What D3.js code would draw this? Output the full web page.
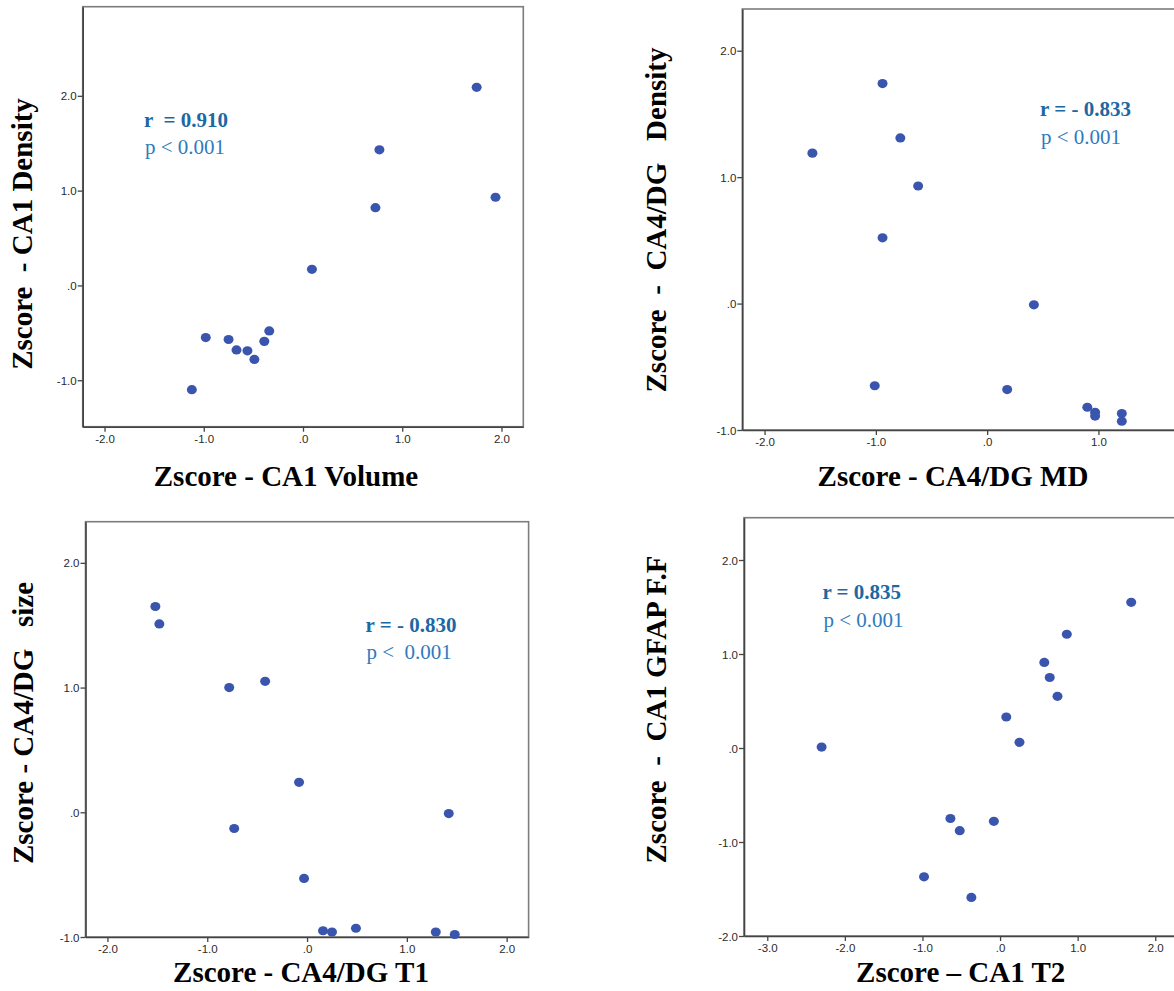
<!DOCTYPE html>
<html>
<head>
<meta charset="utf-8">
<script src="https://cdn.jsdelivr.net/npm/d3@7"></script>
<style>
  html, body { margin: 0; padding: 0; background: #fff; }
  svg { display: block; }
  text { white-space: pre; }
</style>
</head>
<body>
<svg id="chart" width="1174" height="991"></svg>
<script>
// ---------- DATA ----------
// Panel 1: CA1 Volume (x) vs CA1 Density (y)
const p1X = [1.75, 0.77, 1.94, 0.73, 0.09, -0.34, -0.98, -0.75, -0.39, -0.67, -0.56, -0.49, -1.12];
const p1Y = [2.09, 1.43, 0.93, 0.82, 0.17, -0.48, -0.55, -0.57, -0.59, -0.68, -0.69, -0.78, -1.10];
// Panel 2: CA4/DG MD (x) vs CA4/DG Density (y)
const p2X = [-0.94, -0.78, -1.57, -0.62, -0.94, 0.42, -1.01, 0.18, 0.90, 0.97, 0.97, 1.21, 1.21];
const p2Y = [1.74, 1.31, 1.19, 0.93, 0.52, -0.01, -0.65, -0.68, -0.82, -0.86, -0.89, -0.87, -0.93];
// Panel 3: CA4/DG T1 (x) vs CA4/DG size (y)
const p3X = [-1.52, -1.48, -0.78, -0.42, -0.08, -0.73, 1.42, -0.03, 0.16, 0.25, 0.49, 1.29, 1.48];
const p3Y = [1.65, 1.51, 1.00, 1.05, 0.24, -0.13, -0.01, -0.53, -0.95, -0.96, -0.93, -0.96, -0.98];
// Panel 4: CA1 T2 (x) vs CA1 GFAP F.F (y)
const p4X = [-2.30, 1.69, 0.86, 0.57, 0.64, 0.74, 0.08, 0.25, -0.64, -0.52, -0.08, -0.98, -0.37];
const p4Y = [0.01, 1.55, 1.21, 0.91, 0.75, 0.55, 0.33, 0.06, -0.75, -0.88, -0.78, -1.37, -1.59];

const xTitles = ["Zscore - CA1 Volume", "Zscore - CA4/DG MD", "Zscore - CA4/DG T1", "Zscore \u2013 CA1 T2"];
const yTitles = ["Zscore  - CA1 Density", "Zscore  -  CA4/DG   Density", "Zscore - CA4/DG   size", "Zscore  -  CA1 GFAP F.F"];
const rLabels = ["r  = 0.910", "r = - 0.833", "r = - 0.830", "r = 0.835"];
const pLabels = ["p < 0.001", "p < 0.001", "p <  0.001", "p < 0.001"];

const xTicks1 = [-2, -1, 0, 1, 2];
const xTicks2 = [-2, -1, 0, 1];
const xTicks3 = [-2, -1, 0, 1, 2];
const xTicks4 = [-3, -2, -1, 0, 1, 2];
const yTicks123 = [-1, 0, 1, 2];
const yTicks4 = [-2, -1, 0, 1, 2];
const tickFmt = v => v === 0 ? ".0" : (v < 0 ? "-" : "") + Math.abs(v).toFixed(1);

// ---------- LAYOUT ----------
const panels = [
  { xs: p1X, ys: p1Y, xDom: [-2.22, 2.22], xRange: [82.7, 523.3], yDom: [-1.49, 2.94], yRange: [426.7, 6.7],
    xTicks: xTicks1, yTicks: yTicks123,
    xt: { x: 286, y: 486 }, yt: { x: 32, y: 234 }, ann: { x: 144, y: 126.7, dy: 27.5 } },
  { xs: p2X, ys: p2Y, xDom: [-2.2, 2.2], xRange: [742.3, 1232], yDom: [-1, 2.33], yRange: [430, 9],
    xTicks: xTicks2, yTicks: yTicks123,
    xt: { x: 953, y: 486 }, yt: { x: 666, y: 220 }, ann: { x: 1040, y: 116, dy: 27.5 } },
  { xs: p3X, ys: p3Y, xDom: [-2.22, 2.22], xRange: [85.5, 528.6], yDom: [-1, 2.33], yRange: [937, 521.7],
    xTicks: xTicks3, yTicks: yTicks123,
    xt: { x: 301, y: 981.7 }, yt: { x: 33, y: 723 }, ann: { x: 365.5, y: 631.7, dy: 27.5 } },
  { xs: p4X, ys: p4Y, xDom: [-3.3, 2.4], xRange: [744, 1186.3], yDom: [-2, 2.45], yRange: [936, 517.7],
    xTicks: xTicks4, yTicks: yTicks4,
    xt: { x: 960.7, y: 981.7 }, yt: { x: 666, y: 709.5 }, ann: { x: 822.4, y: 599, dy: 27.7 } }
];

const svg = d3.select("#chart");
svg.append("rect").attr("width", 1174).attr("height", 991).attr("fill", "#fff");

panels.forEach((p, i) => {
  const x = d3.scaleLinear().domain(p.xDom).range(p.xRange);
  const y = d3.scaleLinear().domain(p.yDom).range(p.yRange);
  const g = svg.append("g");

  // frame
  g.append("rect")
    .attr("x", p.xRange[0]).attr("y", p.yRange[1])
    .attr("width", p.xRange[1] - p.xRange[0]).attr("height", p.yRange[0] - p.yRange[1])
    .attr("fill", "none").attr("stroke", "#7d7d7d").attr("stroke-width", 1.6);

  // x axis
  const xa = g.append("g").attr("transform", `translate(0,${p.yRange[0]})`)
    .call(d3.axisBottom(x).tickValues(p.xTicks).tickFormat(tickFmt).tickSize(5).tickSizeOuter(0).tickPadding(3));
  // y axis
  const ya = g.append("g").attr("transform", `translate(${p.xRange[0]},0)`)
    .call(d3.axisLeft(y).tickValues(p.yTicks).tickFormat(tickFmt).tickSize(5).tickSizeOuter(0).tickPadding(1));
  [xa, ya].forEach(a => {
    a.select(".domain").attr("stroke", "#444").attr("stroke-width", 1.6);
    a.selectAll(".tick line").attr("stroke", "#444").attr("stroke-width", 1.3);
    a.selectAll(".tick text").attr("fill", "#2a2a2a")
      .style("font-family", "'Liberation Sans', Arial, sans-serif").style("font-size", "11.5px");
  });
  ya.selectAll(".tick text").attr("dy", "0.36em");

  // points
  g.selectAll("ellipse.pt").data(p.xs.map((v, k) => [v, p.ys[k]])).enter()
    .append("ellipse").attr("class", "pt")
    .attr("cx", d => x(d[0])).attr("cy", d => y(d[1]))
    .attr("rx", 5).attr("ry", 4.6)
    .attr("fill", "#3a55ad");

  // titles
  g.append("text").attr("x", p.xt.x).attr("y", p.xt.y)
    .attr("text-anchor", "middle")
    .style("font-family", "'Liberation Serif', 'Times New Roman', serif")
    .style("font-weight", "bold").style("font-size", "29px").attr("fill", "#000")
    .text(xTitles[i]);
  g.append("text")
    .attr("transform", `translate(${p.yt.x},${p.yt.y}) rotate(-90)`)
    .attr("text-anchor", "middle")
    .style("font-family", "'Liberation Serif', 'Times New Roman', serif")
    .style("font-weight", "bold").style("font-size", "29px").attr("fill", "#000")
    .text(yTitles[i]);

  // annotation
  g.append("text").attr("x", p.ann.x).attr("y", p.ann.y)
    .style("font-family", "'Liberation Serif', 'Times New Roman', serif")
    .style("font-weight", "bold").style("font-size", "21px").attr("fill", "#1d67a3")
    .text(rLabels[i]);
  g.append("text").attr("x", p.ann.x + 1).attr("y", p.ann.y + p.ann.dy)
    .style("font-family", "'Liberation Serif', 'Times New Roman', serif")
    .style("font-size", "21px").attr("fill", "#2f7bbd")
    .text(pLabels[i]);
});
</script>
</body>
</html>
